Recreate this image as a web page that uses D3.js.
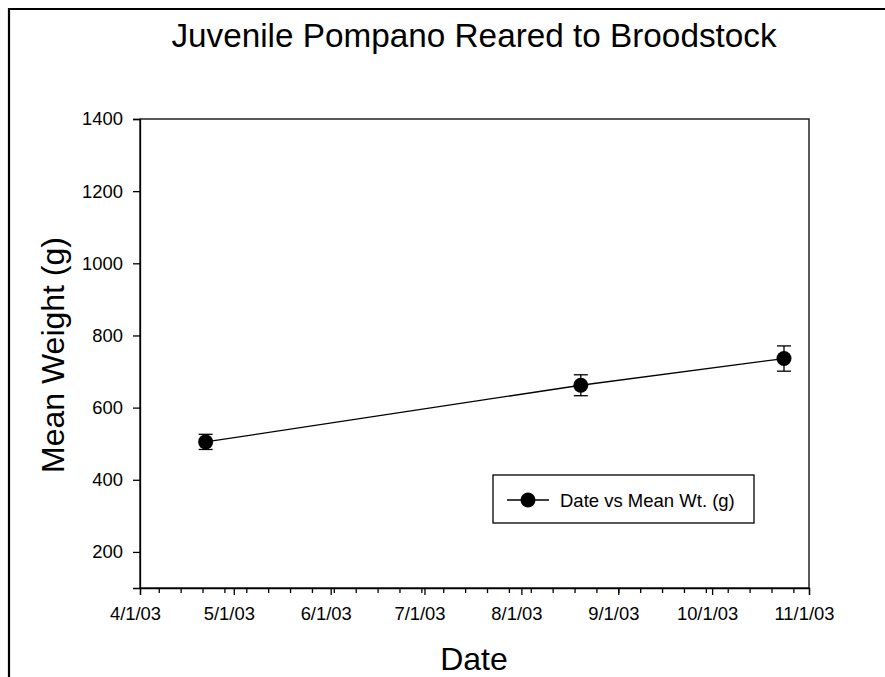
<!DOCTYPE html>
<html>
<head>
<meta charset="utf-8">
<script src="https://cdn.jsdelivr.net/npm/d3@7"></script>
<style>
  body { margin: 0; background: #fff; }
  text { font-family: "Liberation Sans", Arial, sans-serif; fill: #000; }
  .axis path, .axis line { stroke: #000; stroke-width: 1.3; }
  .axis text { font-size: 18.4px; }
</style>
</head>
<body>
<svg></svg>
<script>
var w = 885, h = 677;

// data
var dates = ["2003-04-22", "2003-08-20", "2003-10-24"];
var meanWt = [505, 662, 736];
var errWt = [21, 29, 35];
var yTicks = [200, 400, 600, 800, 1000, 1200, 1400];
var seriesName = "Date vs Mean Wt. (g)";

var parse = d3.timeParse("%Y-%m-%d");
var data = dates.map(function(d, i) {
  return { date: parse(d), mean: meanWt[i], err: errWt[i] };
});

var plotL = 140, plotR = 809, plotT = 119, plotB = 588;

var svg = d3.select("svg").attr("width", w).attr("height", h);

// page frame
svg.append("path")
  .attr("d", "M9," + h + "V9H" + w)
  .attr("fill", "none")
  .attr("stroke", "#000")
  .attr("stroke-width", 2.2);

var x = d3.scaleTime()
  .domain([new Date(2003, 3, 1), new Date(2003, 10, 1)])
  .range([plotL, plotR]);

var y = d3.scaleLinear()
  .domain([100, 1400])
  .range([plotB, plotT]);

// plot box
svg.append("rect")
  .attr("x", plotL).attr("y", plotT)
  .attr("width", plotR - plotL).attr("height", plotB - plotT)
  .attr("fill", "none").attr("stroke", "#000").attr("stroke-width", 1.3);

// minor weekly ticks on x
svg.append("g")
  .attr("class", "axis")
  .attr("transform", "translate(0," + plotB + ")")
  .call(d3.axisBottom(x).ticks(d3.timeMonday.every(1)).tickSize(5).tickFormat(""))
  .select(".domain").remove();

svg.append("g")
  .attr("class", "axis")
  .attr("transform", "translate(0," + plotB + ")")
  .call(d3.axisBottom(x).ticks(d3.timeMonth.every(1)).tickSize(7).tickPadding(12)
    .tickFormat(d3.timeFormat("%-m/%-d/%y")))
  .selectAll("text").attr("dx", -5);

svg.append("g")
  .attr("class", "axis")
  .attr("transform", "translate(" + plotL + ",0)")
  .call(d3.axisLeft(y).tickValues(yTicks).tickSize(7).tickPadding(10)
    .tickFormat(d3.format("d")));

// line
var line = d3.line()
  .x(function(d) { return x(d.date); })
  .y(function(d) { return y(d.mean); });

svg.append("path")
  .datum(data)
  .attr("d", line)
  .attr("fill", "none")
  .attr("stroke", "#000")
  .attr("stroke-width", 1.3);

// error bars
var eb = svg.append("g").selectAll("g")
  .data(data)
  .enter().append("g")
  .attr("stroke", "#000")
  .attr("stroke-width", 1.3);

eb.append("line")
  .attr("x1", function(d) { return x(d.date); })
  .attr("x2", function(d) { return x(d.date); })
  .attr("y1", function(d) { return y(d.mean - d.err); })
  .attr("y2", function(d) { return y(d.mean + d.err); });

[-1, 1].forEach(function(s) {
  eb.append("line")
    .attr("x1", function(d) { return x(d.date) - 7; })
    .attr("x2", function(d) { return x(d.date) + 7; })
    .attr("y1", function(d) { return y(d.mean + s * d.err); })
    .attr("y2", function(d) { return y(d.mean + s * d.err); });
});

svg.append("g").selectAll("circle")
  .data(data)
  .enter().append("circle")
  .attr("cx", function(d) { return x(d.date); })
  .attr("cy", function(d) { return y(d.mean); })
  .attr("r", 7.5)
  .attr("fill", "#000");

// legend
var lg = svg.append("g").attr("transform", "translate(493,475)");
lg.append("rect")
  .attr("width", 261).attr("height", 48)
  .attr("fill", "#fff").attr("stroke", "#000").attr("stroke-width", 1.3);
lg.append("line")
  .attr("x1", 14).attr("x2", 56).attr("y1", 25).attr("y2", 25)
  .attr("stroke", "#000").attr("stroke-width", 1.3);
lg.append("circle").attr("cx", 35).attr("cy", 25).attr("r", 7.5).attr("fill", "#000");
lg.append("text")
  .attr("x", 67).attr("y", 32)
  .style("font-size", "18.5px")
  .text(seriesName);

// titles
svg.append("text")
  .attr("x", 474).attr("y", 47)
  .attr("text-anchor", "middle")
  .style("font-size", "33.3px")
  .text("Juvenile Pompano Reared to Broodstock");

svg.append("text")
  .attr("x", 474).attr("y", 670)
  .attr("text-anchor", "middle")
  .style("font-size", "32px")
  .text("Date");

svg.append("text")
  .attr("transform", "translate(64,355) rotate(-90)")
  .attr("text-anchor", "middle")
  .style("font-size", "32px")
  .text("Mean Weight (g)");
</script>
</body>
</html>
